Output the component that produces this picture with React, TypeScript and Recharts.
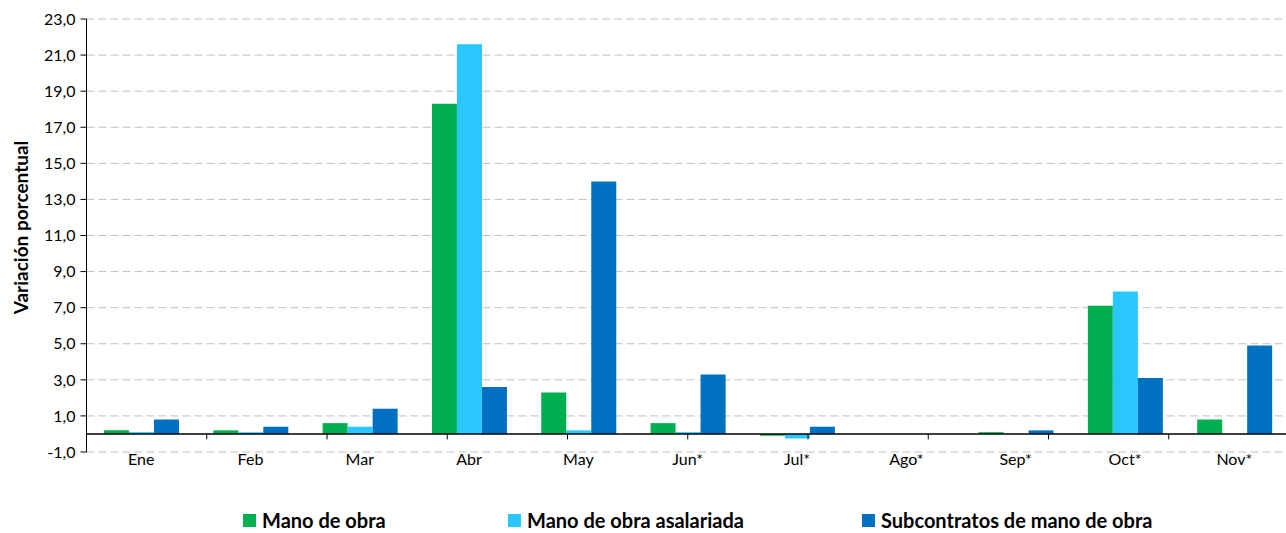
import React from 'react';
import { BarChart, Bar, XAxis, YAxis, CartesianGrid, ReferenceLine, Legend, Label } from 'recharts';

const categories = ['Ene', 'Feb', 'Mar', 'Abr', 'May', 'Jun*', 'Jul*', 'Ago*', 'Sep*', 'Oct*', 'Nov*'];
const manoObra = [0.2, 0.2, 0.6, 18.3, 2.3, 0.6, -0.1, 0, 0.1, 7.1, 0.8];
const asalariada = [0.1, 0.1, 0.4, 21.6, 0.2, 0.1, -0.25, 0, 0, 7.9, 0];
const subcontratos = [0.8, 0.4, 1.4, 2.6, 14.0, 3.3, 0.4, 0, 0.2, 3.1, 4.9];
const yTicks = [-1, 1, 3, 5, 7, 9, 11, 13, 15, 17, 19, 21, 23];

const seriesNames = ['Mano de obra', 'Mano de obra asalariada', 'Subcontratos de mano de obra'];
const seriesColors = ['#00B050', '#29C6FF', '#0070C0'];

const data = categories.map((c, i) => ({
  name: c,
  a: manoObra[i],
  b: asalariada[i],
  c: subcontratos[i],
}));

const boundaries = categories.slice(1).map((_, i) => i + 1);

const fmt = (v: number) => v.toFixed(1).replace('.', ',');

const LegendContent = () => (
  <div style={{ height: 26, position: 'relative', width: 1286, fontWeight: 'bold', fontSize: 20 }}>
    {seriesNames.map((n, i) => (
      <div key={n} style={{ position: 'absolute', left: [243, 508, 862][i], top: 0, display: 'flex', alignItems: 'center', height: 26, lineHeight: '26px', whiteSpace: 'nowrap' }}>
        <span style={{ display: 'inline-block', width: 13, height: 13, background: seriesColors[i], marginRight: 6 }} />
        <span>{n}</span>
      </div>
    ))}
  </div>
);

const YTitle = (props: any) => {
  const vb = props.viewBox || {};
  const x = 20;
  const y = vb.y + vb.height / 2 - 8;
  return (
    <text x={x} y={y} transform={`rotate(-90 ${x} ${y})`} textAnchor="middle" dominantBaseline="central" fontWeight="bold" fontSize={19} fill="#000">
      Variación porcentual
    </text>
  );
};

export default function App() {
  return (
    <div style={{ position: 'absolute', left: 0, top: 0, width: 1286, height: 533, overflow: 'hidden', background: '#fff', fontFamily: 'Lato, Carlito, sans-serif' }}>
      <BarChart width={1292} height={533} data={data} margin={{ top: 19, right: 3, left: 0, bottom: 0 }} barCategoryGap="16%" barGap={0}>
        <CartesianGrid vertical={false} stroke="#C0C0C0" strokeDasharray="8 4" />
        <XAxis dataKey="name" xAxisId={0} axisLine={false} tickLine={false} tickSize={2} tickMargin={0} height={55} tick={{ fontSize: 16, fill: '#000' }} interval={0} />
        <XAxis xAxisId="b" type="number" domain={[0, categories.length]} hide />
        <YAxis
          width={86.5}
          domain={[-1, 23]}
          ticks={yTicks}
          interval={0}
          tickFormatter={fmt}
          axisLine={{ stroke: '#000' }}
          tickLine={{ stroke: '#000' }}
          tickSize={6}
          tickMargin={5}
          tick={{ fontSize: 16, fill: '#000' }}
        >
          <Label content={YTitle} />
        </YAxis>
        <ReferenceLine y={0} stroke="#000" strokeWidth={1.5} xAxisId={0} />
        {boundaries.map((b) => (
          <ReferenceLine key={b} xAxisId="b" segment={[{ x: b, y: 0 }, { x: b, y: -0.3 }]} stroke="#000" />
        ))}
        <Bar dataKey="a" name={seriesNames[0]} fill={seriesColors[0]} isAnimationActive={false} />
        <Bar dataKey="b" name={seriesNames[1]} fill={seriesColors[1]} isAnimationActive={false} />
        <Bar dataKey="c" name={seriesNames[2]} fill={seriesColors[2]} isAnimationActive={false} />
        <Legend verticalAlign="bottom" content={LegendContent} wrapperStyle={{ left: 0, width: 1286 }} />
      </BarChart>
    </div>
  );
}
